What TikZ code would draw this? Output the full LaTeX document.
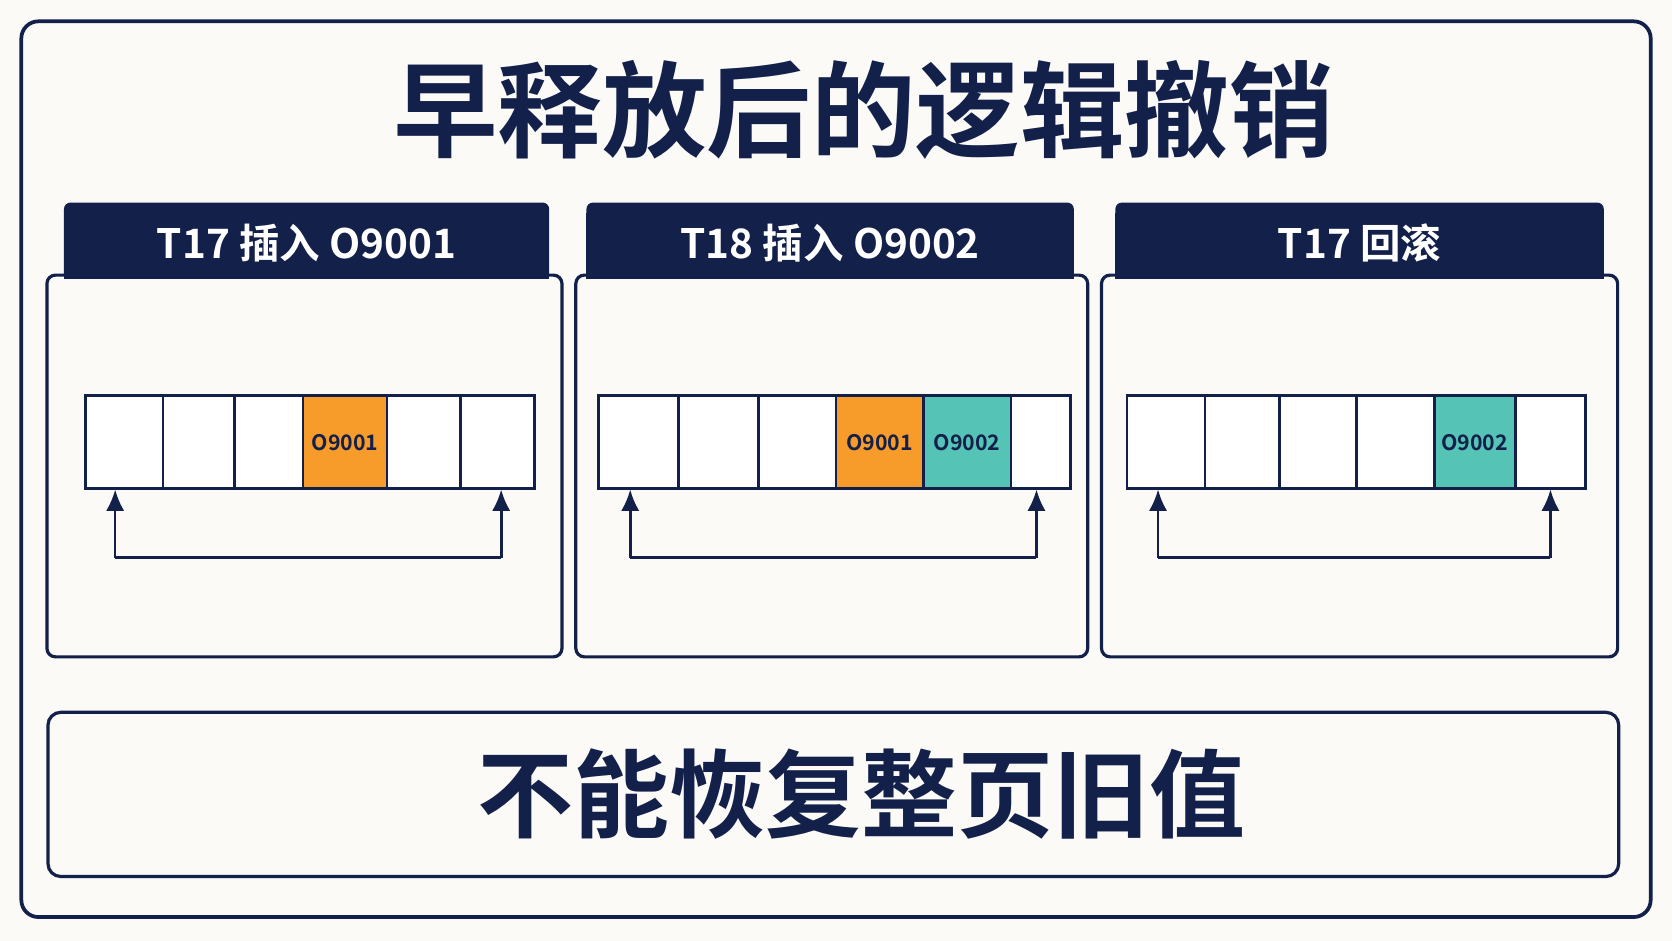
\documentclass[tikz,border=0pt]{standalone}
\usepackage{fontspec}
\usetikzlibrary{arrows.meta}
\newfontfamily\cjk{Noto Sans CJK SC}[BoldFont={* Bold}]
\definecolor{navy}{HTML}{13204A}
\definecolor{bgc}{HTML}{FBFAF7}
\definecolor{org}{HTML}{F79C2A}
\definecolor{tea}{HTML}{55C3B6}
\begin{document}
\begin{tikzpicture}[x=1pt,y=-1pt,
  box/.style={draw=navy,line width=3pt,rounded corners=8pt,fill=bgc},
  hdr/.style={fill=navy,rounded corners=6pt},
  htxt/.style={text=white,font=\cjk\bfseries\fontsize{38}{40}\selectfont},
  cell/.style={draw=navy,line width=2.5pt},
  ctxt/.style={text=navy,font=\cjk\bfseries\fontsize{20}{22}\selectfont},
  arr/.style={draw=navy,line width=2.5pt,-{Latex[length=20pt,width=17pt]}}]
\fill[bgc] (0,0) rectangle (1568,882);
\useasboundingbox (0,0) rectangle (1568,882);
\draw[navy,line width=3.5pt,rounded corners=16pt] (20,20) rectangle (1548,860);
\node[text=navy,font=\cjk\bfseries\fontsize{98}{104}\selectfont] (title) at (810,103) {早释放后的逻辑撤销};
% panels
\foreach \hx/\hX/\bx/\bX/\lab/\n in {60/515/44/527/{T17 插入 O9001}/a,550/1007/540/1020/{T18 插入 O9002}/b,1046/1504/1033/1517/{T17 回滚}/c}{
  \fill[hdr] (\hx,190) rectangle (\hX,266);
  \draw[box] (\bx,258) rectangle (\bX,616);
  \fill[navy] (\hx,200) rectangle (\hX,262);
  \node[htxt] (h\n) at ({(\hx+\hX)/2},228) {\lab};
}
% cells panel 1
\foreach \x/\X in {80/153,153/220,220/284,363/432,432/501} \draw[cell,fill=white] (\x,371) rectangle (\X,458);
\draw[cell,fill=org] (284,371) rectangle (363,458);
\node[ctxt] (a1) at (323.5,415) {O9001};
% panel 2
\foreach \x/\X in {561/636,636/711,711/784,948/1004} \draw[cell,fill=white] (\x,371) rectangle (\X,458);
\draw[cell,fill=org] (784,371) rectangle (866,458);
\draw[cell,fill=tea] (866,371) rectangle (948,458);
\node[ctxt] (b1) at (825,415) {O9001};
\node[ctxt] (b2) at (907,415) {O9002};
% panel 3
\foreach \x/\X in {1057/1130,1130/1200,1200/1272,1272/1345,1421/1487} \draw[cell,fill=white] (\x,371) rectangle (\X,458);
\draw[cell,fill=tea] (1345,371) rectangle (1421,458);
\node[ctxt] (c1) at (1383,415) {O9002};
% arrows
\foreach \l/\r/\n in {108/470/a,591/972/b,1086/1454/c}{
  \coordinate (\n L) at (\l,523); \coordinate (\n R) at (\r,523);
  \coordinate (\n Lt) at (\l,459); \coordinate (\n Rt) at (\r,459);
  \draw[arr] (\n L) -- (\n Lt);
  \draw[arr] (\n R) -- (\n Rt);
  \draw[navy,line width=2.5pt] (\n L) -- (\n R);
}
\draw[box,line width=3pt,rounded corners=12pt] (45,668) rectangle (1518,822);
\node[text=navy,font=\cjk\bfseries\fontsize{90}{96}\selectfont] (bottom) at (808,745) {不能恢复整页旧值};
\end{tikzpicture}
\end{document}
